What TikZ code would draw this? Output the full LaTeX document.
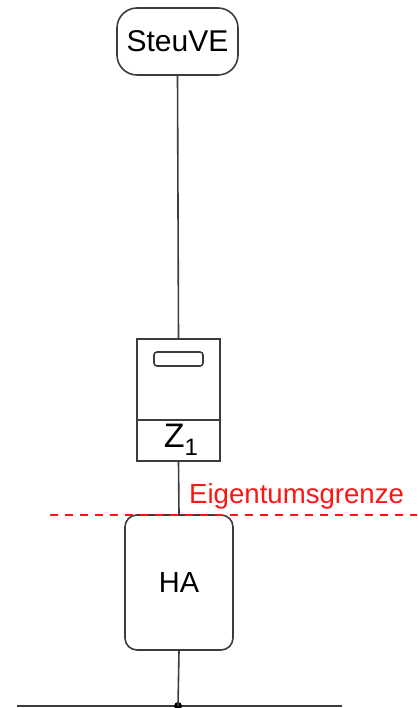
\documentclass[tikz,border=0pt]{standalone}
\usepackage{fontspec}
\setmainfont{Liberation Sans}
\definecolor{egred}{RGB}{255,20,20}
\definecolor{linegray}{RGB}{60,60,60}
\begin{document}
\begin{tikzpicture}[x=1pt,y=-1pt,
  line/.style={draw=linegray,line width=1.6pt},
  rbox/.style={line,rounded corners=#1},
]
\useasboundingbox (0,0) rectangle (417,708);
% SteuVE
\node[rbox=20pt,minimum width=121pt,minimum height=67pt,inner sep=0pt,font=\fontsize{30}{32}\selectfont] (steu) at (177.5,41.5) {SteuVE};
% meter
\node[line,minimum width=83pt,minimum height=122pt,inner sep=0pt] (z) at (178.5,400) {};
\coordinate (dl) at (137,420);
\coordinate (dr) at (220,420);
\draw[line] (dl) -- (dr);
\node[rbox=3pt,minimum width=49pt,minimum height=14pt,inner sep=0pt] (disp) at (178.5,359) {};
\node[font=\fontsize{34}{36}\selectfont,inner sep=0pt] (zl) at (181,440) {Z\textsubscript{1}};
% HA
\node[rbox=12pt,minimum width=108pt,minimum height=135pt,inner sep=0pt,font=\fontsize{29}{31}\selectfont] (ha) at (179,582.5) {HA};
% bus
\coordinate (bl) at (17,706);
\coordinate (br) at (342,706);
\coordinate (bj) at (178,706);
\draw[line] (bl) -- (br);
\fill[black] (bj) circle (4pt);
% connectors
\draw[line] (steu.south) -- (z.north);
\draw[line] (z.south) -- (ha.north);
\draw[line] (ha.south) -- (bj);
% boundary
\coordinate (gl) at (50,515);
\coordinate (gr) at (417,515);
\draw[egred,line width=1.5pt,dash pattern=on 8pt off 7pt] (gl) -- (gr);
\node[text=egred,font=\fontsize{27.6}{29}\selectfont,anchor=base west,inner sep=0pt] (eg) at (189,503) {Eigentumsgrenze};
\end{tikzpicture}
\end{document}
